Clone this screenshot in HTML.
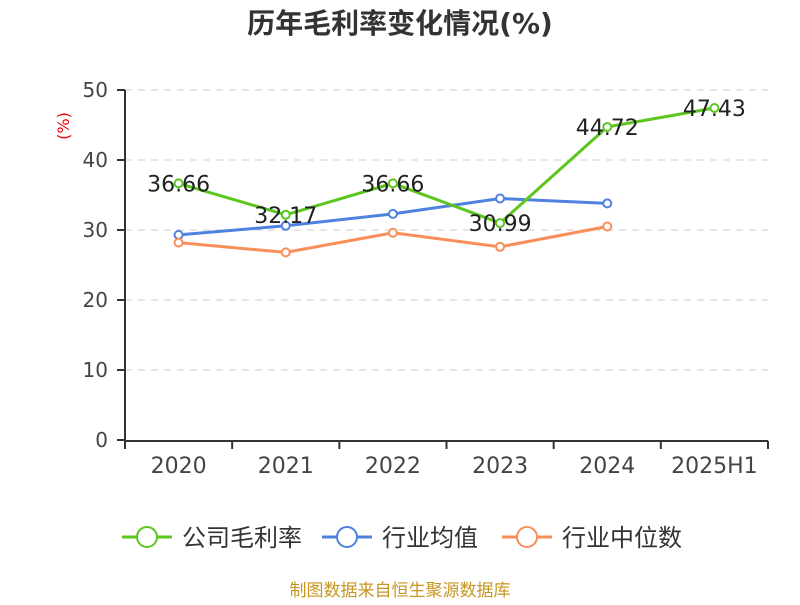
<!DOCTYPE html>
<html><head><meta charset="utf-8"><style>
body{margin:0;background:#fff;}
svg text{font-family:"DejaVu Sans","Noto Sans CJK SC",sans-serif;}
</style></head><body>
<svg id="c" width="800" height="600" xmlns="http://www.w3.org/2000/svg">
<text x="400" y="33" text-anchor="middle" font-size="28" font-weight="bold" fill="#333">历年毛利率变化情况(%)</text>
<text x="0" y="0" transform="translate(69,126) rotate(-90)" text-anchor="middle" font-size="16" fill="#e00">(%)</text>
<g id="grid"></g><g id="axes"></g><g id="series"></g>
<g id="legend"></g>
<text x="400" y="596" text-anchor="middle" font-size="17" fill="#c8961e">制图数据来自恒生聚源数据库</text>
</svg>
<script>
const categories=["2020","2021","2022","2023","2024","2025H1"];
const yTicks=[0,10,20,30,40,50];
const company=[36.66,32.17,36.66,30.99,44.72,47.43];
const industryAvg=[29.3,30.6,32.3,34.5,33.8,null];
const industryMedian=[28.2,26.8,29.6,27.6,30.5,null];
const NS="http://www.w3.org/2000/svg";
const L=125,R=768,T=90,B=440;
const band=(R-L)/categories.length;
const x=i=>L+band*(i+0.5);
const y=v=>B-(v/50)*(B-T);
function mk(tag,attrs,parent){const e=document.createElementNS(NS,tag);for(const k in attrs)e.setAttribute(k,attrs[k]);parent.appendChild(e);return e;}
const grid=document.getElementById('grid'),axes=document.getElementById('axes'),ser=document.getElementById('series'),leg=document.getElementById('legend');
yTicks.forEach(t=>{
  if(t>0){const g=mk('line',{x1:L,x2:R,y1:y(t),y2:y(t),stroke:'#ccc','stroke-dasharray':'7,6','stroke-width':1},grid);
  
  }
  const tk=mk('line',{x1:L-8,x2:L,y1:y(t),y2:y(t),stroke:'#333','stroke-width':2},axes);
  
  
  const tx=mk('text',{x:L-17,y:y(t)+7,'text-anchor':'end','font-size':20,fill:'#444'},axes);tx.textContent=t;
  
  
});
const ya=mk('line',{x1:L,x2:L,y1:T,y2:B,stroke:'#333','stroke-width':2},axes);


const xa=mk('line',{x1:L,x2:R,y1:B+1,y2:B+1,stroke:'#333','stroke-width':2},axes);


for(let i=0;i<=categories.length;i++){const tk=mk('line',{x1:L+band*i,x2:L+band*i,y1:B+1,y2:B+9,stroke:'#333','stroke-width':2},axes);

}
categories.forEach((c,i)=>{const t=mk('text',{x:x(i),y:B+33,'text-anchor':'middle','font-size':22,fill:'#444'},axes);t.textContent=c;

});
function drawSeries(data,color,name,labels){
  const pts=data.map((v,i)=>v==null?null:[x(i),y(v)]).filter(p=>p);
  const pl=mk('polyline',{points:pts.map(p=>p.join(',')).join(' '),fill:'none',stroke:color,'stroke-width':3},ser);
  
  
  data.forEach((v,i)=>{if(v==null)return;
    const c=mk('circle',{cx:x(i),cy:y(v),r:4,fill:'#fff',stroke:color,'stroke-width':2},ser);
    
    
    if(labels){const t=mk('text',{x:x(i),y:y(v)+8,'text-anchor':'middle','font-size':22,fill:'#222'},ser);t.textContent=v.toFixed(2);
    
    }
  });
}
drawSeries(industryAvg,'#4f81e0','industry-average',false);
drawSeries(industryMedian,'#f98e5a','industry-median',false);
drawSeries(company,'#5cc61f','company-gross-margin',true);
const items=[['公司毛利率','#5cc61f'],['行业均值','#4f81e0'],['行业中位数','#f98e5a']];
const lx=[122,322,502];
items.forEach((it,i)=>{
  const g=mk('g',{},leg);
  
  
  mk('line',{x1:lx[i],x2:lx[i]+50,y1:537,y2:537,stroke:it[1],'stroke-width':3},g);
  mk('circle',{cx:lx[i]+25,cy:537,r:10,fill:'#fff',stroke:it[1],'stroke-width':2},g);
  const t=mk('text',{x:lx[i]+60,y:546,'font-size':24,fill:'#333'},g);t.textContent=it[0];
});
</script>
</body></html>
